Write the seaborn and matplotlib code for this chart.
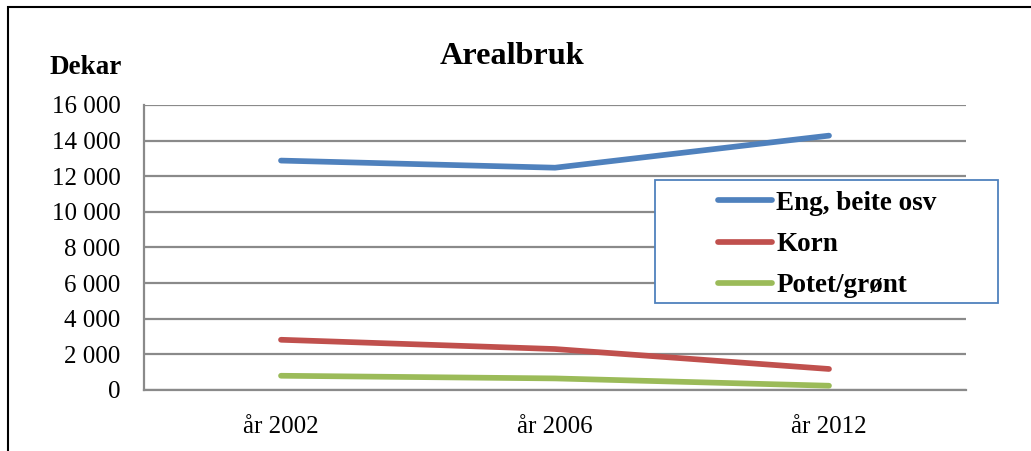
import matplotlib
matplotlib.use('Agg')
import matplotlib.pyplot as plt
import matplotlib.patches as mpatches
from matplotlib.ticker import FuncFormatter
import pandas as pd
import seaborn as sns

# data
years = ['år 2002', 'år 2006', 'år 2012']
eng = [12880, 12480, 14280]
korn = [2820, 2300, 1180]
potet = [800, 650, 240]
series_names = ['Eng, beite osv', 'Korn', 'Potet/grønt']
colors = ['#4F81BD', '#C0504D', '#9BBB59']

df = pd.DataFrame({
    'år': years * 3,
    'dekar': eng + korn + potet,
    'serie': [s for s in series_names for _ in years],
})

sns.set_style('white')
plt.rcParams['font.family'] = ['Liberation Serif', 'DejaVu Serif']
plt.rcParams['text.color'] = 'black'
plt.rcParams['xtick.color'] = 'black'
plt.rcParams['ytick.color'] = 'black'

fig = plt.figure(figsize=(10.31, 4.51), dpi=100)
ax = fig.add_axes([144 / 1031, 1 - 390 / 451, 822 / 1031, 285 / 451])

sns.lineplot(data=df, x='år', y='dekar', hue='serie', hue_order=series_names,
             palette=colors, linewidth=4.1, solid_capstyle='round',
             legend=False, ax=ax, zorder=3)

ax.set_xlim(-0.5, 2.5)
ax.set_ylim(0, 16000)
ax.set_yticks(range(0, 16001, 2000))
ax.yaxis.set_major_formatter(FuncFormatter(lambda v, p: f"{int(v):,}".replace(',', ' ')))
ax.grid(axis='y', color='#8a8a8a', linewidth=1.6)
ax.grid(axis='x', visible=False)
ax.set_axisbelow(True)
for side in ['top', 'right']:
    ax.spines[side].set_visible(False)
for side in ['left', 'bottom']:
    ax.spines[side].set_color('#8a8a8a')
    ax.spines[side].set_linewidth(1.6)
ax.tick_params(axis='y', length=0, pad=17, labelsize=18)
ax.tick_params(axis='x', length=0, pad=19, labelsize=18)
ax.set_xlabel('')
ax.set_ylabel('')

fig.text(512 / 1031, 1 - 57 / 451, 'Arealbruk', ha='center', va='center',
         fontsize=23.2, fontweight='bold')
fig.text(50 / 1031, 1 - 68 / 451, 'Dekar', ha='left', va='center',
         fontsize=19.5, fontweight='bold')

# ramme rundt figuren
fig.patches.append(mpatches.Rectangle((8 / 1031, -0.1), 1.1, 1.1 - 7 / 451,
                                      transform=fig.transFigure, fill=False,
                                      edgecolor='black', linewidth=1.5))

# forklaringsboks
fig.patches.append(mpatches.Rectangle((655 / 1031, 1 - 303 / 451), 343 / 1031, 123 / 451,
                                      transform=fig.transFigure, facecolor='white',
                                      edgecolor='#4F81BD', linewidth=1.3, zorder=2))
handles = [plt.Line2D([], [], color=c, linewidth=4.1, solid_capstyle='round') for c in colors]
leg = fig.legend(handles, series_names, loc='upper left',
                 bbox_to_anchor=(699 / 1031, 1 - 172 / 451), frameon=False,
                 prop={'weight': 'bold', 'size': 19.5}, handlelength=2.0,
                 handletextpad=0.15, labelspacing=0.6, borderpad=0.2)
leg.set_zorder(3)

fig.savefig('out.png', dpi=100)
